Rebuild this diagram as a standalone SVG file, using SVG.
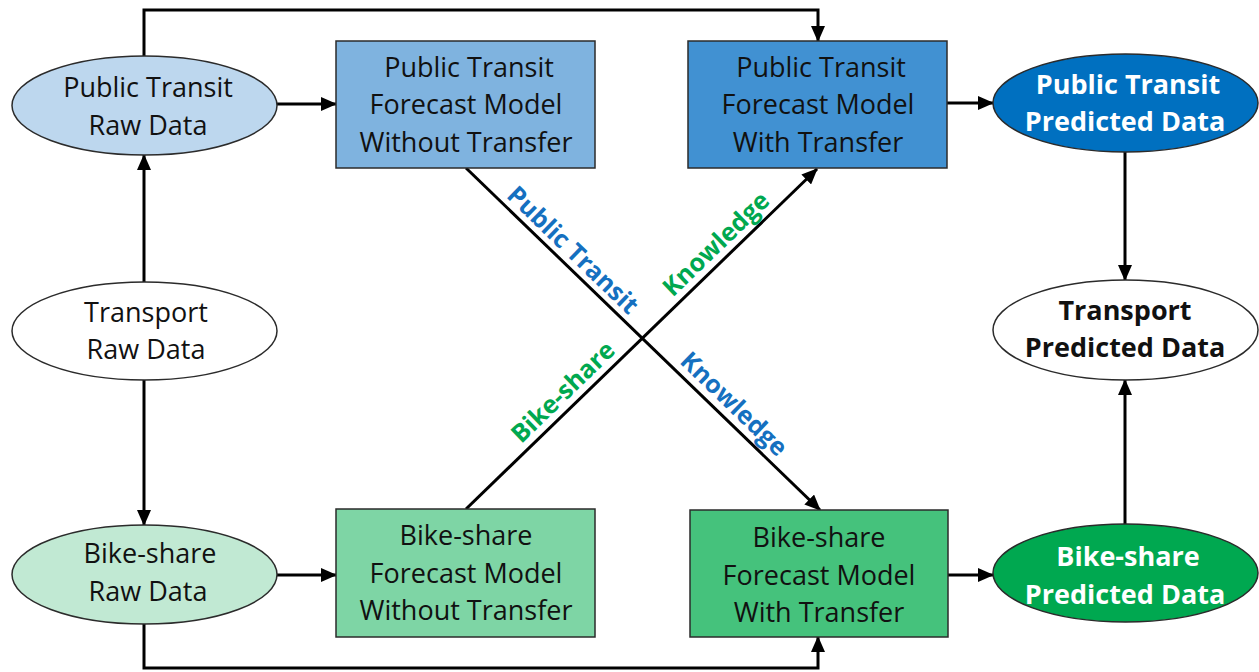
<svg xmlns="http://www.w3.org/2000/svg" width="1259" height="672" viewBox="0 0 1259 672">
  <defs>
    <marker id="arrow" markerUnits="userSpaceOnUse" markerWidth="16" markerHeight="14" refX="15" refY="7" orient="auto">
      <path d="M0,0 L16,7 L0,14 z" fill="#000"/>
    </marker>
    <style>
      .node-shape { stroke: #2b2b2b; stroke-width: 1.5; }
      .lbl { font-family: "Open Sans", "Liberation Sans", sans-serif; font-size: 27px; text-anchor: middle; fill: #111; }
      .bold { font-weight: bold; }
      .white { fill: #fff; }
      .conn { fill: none; stroke: #000; stroke-width: 3; marker-end: url(#arrow); }
      .edge-lbl { font-family: "Open Sans", "Liberation Sans", sans-serif; font-size: 25px; font-weight: bold; text-anchor: middle; dominant-baseline: central; }
      .blue { fill: #1570C0; }
      .green { fill: #00A850; }
    </style>
  </defs>
  <rect width="1259" height="672" fill="#fff"/>

  <!-- connectors -->
  <g id="connectors">
    <path class="conn" d="M144,56 V10 H818 V41"/>
    <path class="conn" d="M277,104 H336"/>
    <path class="conn" d="M947,103 H993"/>
    <path class="conn" d="M1125,152 V280"/>
    <path class="conn" d="M1125,524 V380"/>
    <path class="conn" d="M144,282 V155"/>
    <path class="conn" d="M144,380 V525"/>
    <path class="conn" d="M277,575 H336"/>
    <path class="conn" d="M948,575 H993"/>
    <path class="conn" d="M144,624 V668 H818 V637"/>
    <path class="conn" d="M466,168 L820,510"/>
    <path class="conn" d="M466,509 L817,169"/>
    <text class="edge-lbl blue" transform="translate(574,249) rotate(44)">Public Transit</text>
    <text class="edge-lbl blue" transform="translate(735,403) rotate(44)">Knowledge</text>
    <text class="edge-lbl green" transform="translate(715,243) rotate(-44)">Knowledge</text>
    <text class="edge-lbl green" transform="translate(562,391) rotate(-44)">Bike-share</text>
  </g>

  <!-- raw data sources -->
  <g id="pt-raw">
    <ellipse class="node-shape" cx="144.5" cy="105.5" rx="132.5" ry="49.5" fill="#BDD7EE"/>
    <text class="lbl" x="148" y="97">Public Transit</text>
    <text class="lbl" x="148" y="135">Raw Data</text>
  </g>
  <g id="transport-raw">
    <ellipse class="node-shape" cx="144.5" cy="331" rx="132.5" ry="49" fill="#fff"/>
    <text class="lbl" x="146" y="322">Transport</text>
    <text class="lbl" x="146" y="359">Raw Data</text>
  </g>
  <g id="bike-raw">
    <ellipse class="node-shape" cx="144.5" cy="574.5" rx="132.5" ry="49.5" fill="#C1E9D3"/>
    <text class="lbl" x="150" y="563">Bike-share</text>
    <text class="lbl" x="148" y="601">Raw Data</text>
  </g>

  <!-- forecast models -->
  <g id="pt-model">
    <rect class="node-shape" x="336" y="41" width="259" height="127" fill="#7FB3DF"/>
    <text class="lbl" x="469" y="77">Public Transit</text>
    <text class="lbl" x="466" y="114">Forecast Model</text>
    <text class="lbl" x="466" y="152">Without Transfer</text>
  </g>
  <g id="pt-model-transfer">
    <rect class="node-shape" x="688" y="41" width="259" height="127" fill="#4191D2"/>
    <text class="lbl" x="821" y="77">Public Transit</text>
    <text class="lbl" x="818" y="114">Forecast Model</text>
    <text class="lbl" x="818" y="152">With Transfer</text>
  </g>
  <g id="bike-model">
    <rect class="node-shape" x="336" y="509" width="259" height="128" fill="#7ED5A5"/>
    <text class="lbl" x="466" y="545">Bike-share</text>
    <text class="lbl" x="466" y="583">Forecast Model</text>
    <text class="lbl" x="466" y="620">Without Transfer</text>
  </g>
  <g id="bike-model-transfer">
    <rect class="node-shape" x="690" y="510" width="258" height="127" fill="#45C27C"/>
    <text class="lbl" x="819" y="547">Bike-share</text>
    <text class="lbl" x="819" y="585">Forecast Model</text>
    <text class="lbl" x="819" y="622">With Transfer</text>
  </g>

  <!-- predicted outputs -->
  <g id="pt-pred">
    <ellipse class="node-shape" cx="1125.5" cy="103" rx="132.5" ry="49" fill="#0070C0"/>
    <text class="lbl bold white" x="1128" y="94">Public Transit</text>
    <text class="lbl bold white" x="1125" y="131">Predicted Data</text>
  </g>
  <g id="transport-pred">
    <ellipse class="node-shape" cx="1125.5" cy="330" rx="132.5" ry="50" fill="#fff"/>
    <text class="lbl bold" x="1125" y="320">Transport</text>
    <text class="lbl bold" x="1125" y="357">Predicted Data</text>
  </g>
  <g id="bike-pred">
    <ellipse class="node-shape" cx="1125.5" cy="573" rx="132.5" ry="49" fill="#00A850"/>
    <text class="lbl bold white" x="1128" y="566">Bike-share</text>
    <text class="lbl bold white" x="1125" y="604">Predicted Data</text>
  </g>
</svg>
